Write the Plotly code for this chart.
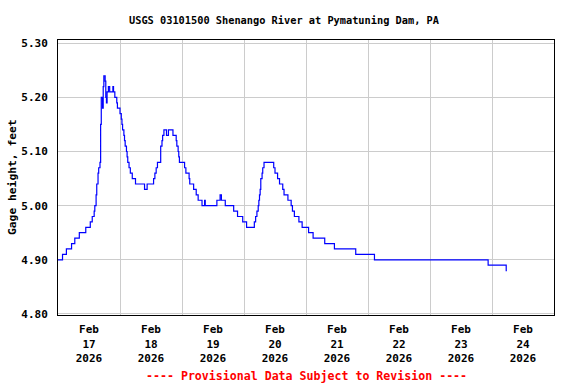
import plotly.graph_objects as go

# Gage height change points (value holds until next time)
times = [
    "2026-02-17 00:00", "2026-02-17 01:45", "2026-02-17 03:15", "2026-02-17 05:15",
    "2026-02-17 06:30", "2026-02-17 08:15", "2026-02-17 10:45", "2026-02-17 12:30",
    "2026-02-17 13:15", "2026-02-17 14:00", "2026-02-17 14:15", "2026-02-17 14:45",
    "2026-02-17 15:00", "2026-02-17 15:30", "2026-02-17 15:45", "2026-02-17 16:15",
    "2026-02-17 16:30", "2026-02-17 16:45", "2026-02-17 17:15", "2026-02-17 17:30",
    "2026-02-17 17:45", "2026-02-17 18:15", "2026-02-17 18:30", "2026-02-17 18:45",
    "2026-02-17 19:00", "2026-02-17 19:30", "2026-02-17 20:00", "2026-02-17 21:15",
    "2026-02-17 21:30", "2026-02-17 22:00", "2026-02-17 22:45", "2026-02-17 23:00",
    "2026-02-18 00:00", "2026-02-18 00:30", "2026-02-18 00:45", "2026-02-18 01:00",
    "2026-02-18 01:30", "2026-02-18 01:45", "2026-02-18 02:00", "2026-02-18 02:30",
    "2026-02-18 02:45", "2026-02-18 03:00", "2026-02-18 03:30", "2026-02-18 04:00",
    "2026-02-18 04:45", "2026-02-18 06:00", "2026-02-18 09:30", "2026-02-18 10:30",
    "2026-02-18 13:00", "2026-02-18 13:30", "2026-02-18 14:00", "2026-02-18 14:30",
    "2026-02-18 15:45", "2026-02-18 16:15", "2026-02-18 16:30", "2026-02-18 17:00",
    "2026-02-18 18:00", "2026-02-18 18:45", "2026-02-18 20:30", "2026-02-18 21:45",
    "2026-02-18 22:00", "2026-02-18 22:30", "2026-02-18 22:45", "2026-02-18 23:00",
    "2026-02-19 01:00", "2026-02-19 01:30", "2026-02-19 02:45", "2026-02-19 03:00",
    "2026-02-19 04:30", "2026-02-19 05:30", "2026-02-19 06:15", "2026-02-19 07:45",
    "2026-02-19 08:45", "2026-02-19 09:00", "2026-02-19 13:30", "2026-02-19 14:45",
    "2026-02-19 15:15", "2026-02-19 16:45", "2026-02-19 20:00", "2026-02-19 21:30",
    "2026-02-19 23:30", "2026-02-20 01:00", "2026-02-20 04:00", "2026-02-20 04:30",
    "2026-02-20 05:00", "2026-02-20 05:30", "2026-02-20 05:45", "2026-02-20 06:00",
    "2026-02-20 06:15", "2026-02-20 06:30", "2026-02-20 07:00", "2026-02-20 07:15",
    "2026-02-20 07:45", "2026-02-20 11:30", "2026-02-20 12:00", "2026-02-20 13:00",
    "2026-02-20 13:45", "2026-02-20 15:00", "2026-02-20 15:30", "2026-02-20 17:00",
    "2026-02-20 18:15", "2026-02-20 18:45", "2026-02-20 19:30", "2026-02-20 21:15",
    "2026-02-20 22:30", "2026-02-21 01:00", "2026-02-21 02:45", "2026-02-21 07:15",
    "2026-02-21 11:00", "2026-02-21 19:15", "2026-02-22 02:30", "2026-02-23 22:30",
    "2026-02-24 05:30", "2026-02-24 05:45",
]
gage_ft = [
    4.90, 4.91, 4.92, 4.93,
    4.94, 4.95, 4.96, 4.97,
    4.98, 4.99, 5.00, 5.02,
    5.04, 5.06, 5.07, 5.08,
    5.15, 5.20, 5.18, 5.22,
    5.24, 5.23, 5.20, 5.19,
    5.21, 5.22, 5.21, 5.22,
    5.21, 5.20, 5.19, 5.18,
    5.17, 5.16, 5.15, 5.14,
    5.13, 5.12, 5.11, 5.10,
    5.09, 5.08, 5.07, 5.06,
    5.05, 5.04, 5.03, 5.04,
    5.05, 5.06, 5.07, 5.08,
    5.11, 5.12, 5.13, 5.14,
    5.13, 5.14, 5.13, 5.12,
    5.11, 5.10, 5.09, 5.08,
    5.07, 5.06, 5.05, 5.04,
    5.03, 5.02, 5.01, 5.00,
    5.01, 5.00, 5.01, 5.02,
    5.01, 5.00, 4.99, 4.98,
    4.97, 4.96, 4.97, 4.98,
    4.99, 5.00, 5.01, 5.02,
    5.03, 5.05, 5.06, 5.07,
    5.08, 5.07, 5.06, 5.05,
    5.04, 5.03, 5.02, 5.01,
    5.00, 4.99, 4.98, 4.97,
    4.96, 4.95, 4.94, 4.93,
    4.92, 4.91, 4.90, 4.89,
    4.88, 4.88,
]

tick_days = ["2026-02-17", "2026-02-18", "2026-02-19", "2026-02-20",
             "2026-02-21", "2026-02-22", "2026-02-23", "2026-02-24"]
tick_labels = ["Feb<br>17<br>2026", "Feb<br>18<br>2026", "Feb<br>19<br>2026", "Feb<br>20<br>2026",
               "Feb<br>21<br>2026", "Feb<br>22<br>2026", "Feb<br>23<br>2026", "Feb<br>24<br>2026"]
y_ticks = [4.80, 4.90, 5.00, 5.10, 5.20, 5.30]

FONT = "DejaVu Sans Mono"
L, R, T, B = 58, 22, 40, 69
PW, PH = 576 - L - R, 384 - T - B

fig = go.Figure()
fig.add_trace(go.Scatter(
    x=times, y=gage_ft, mode="lines", line=dict(color="#0000ff", width=1.2, shape="hv"),
    hoverinfo="skip", showlegend=False,
))

fig.update_layout(
    width=576, height=384,
    margin=dict(l=L, r=R, t=T, b=B, autoexpand=False),
    paper_bgcolor="white", plot_bgcolor="white",
    font=dict(family=FONT, size=11, color="black", weight="bold"),
    showlegend=False,
)

fig.update_xaxes(
    type="date",
    range=["2026-02-17 00:00", "2026-02-25 00:00"],
    tickmode="array",
    tickvals=[d + " 12:00" for d in tick_days],
    ticktext=tick_labels,
    showgrid=False,
    ticks="",
    ticklabelstandoff=4,
    minor=dict(tickmode="array", tickvals=tick_days[1:], showgrid=True,
               gridcolor="#cccccc", gridwidth=1, ticks=""),
    showline=True, linecolor="black", linewidth=1, mirror=True,
    zeroline=False, automargin=False,
    tickfont=dict(family=FONT, size=11, weight="bold"),
)

fig.update_yaxes(
    range=[4.798, 5.306],
    tickmode="array",
    tickvals=y_ticks,
    ticktext=[f"{v:.2f}" for v in y_ticks],
    showgrid=True, gridcolor="#cccccc", gridwidth=1,
    ticks="",
    ticklabelstandoff=7,
    showline=True, linecolor="black", linewidth=1, mirror=True,
    zeroline=False, automargin=False,
    tickfont=dict(family=FONT, size=11, weight="bold"),
)

# Title
fig.add_annotation(
    text="USGS 03101500 Shenango River at Pymatuning Dam, PA",
    xref="paper", yref="paper", x=(284 - L) / PW, y=1 + (T - 20) / PH,
    xanchor="center", yanchor="middle", showarrow=False,
    font=dict(family=FONT, size=10.3, color="black", weight="bold"),
)
# Y axis title
fig.add_annotation(
    text="Gage height, feet",
    xref="paper", yref="paper", x=(12 - L) / PW, y=(315 - 177) / PH,
    xanchor="center", yanchor="middle", textangle=-90, showarrow=False,
    font=dict(family=FONT, size=11.3, color="black", weight="bold"),
)
# Footer
fig.add_annotation(
    text="---- Provisional Data Subject to Revision ----",
    xref="paper", yref="paper", x=(306 - L) / PW, y=-(376 - 315) / PH,
    xanchor="center", yanchor="middle", showarrow=False,
    font=dict(family=FONT, size=11.6, color="red", weight="bold"),
)

fig.write_html("out.html", config={"displayModeBar": False},
               post_script="document.body.style.margin='0px';")
